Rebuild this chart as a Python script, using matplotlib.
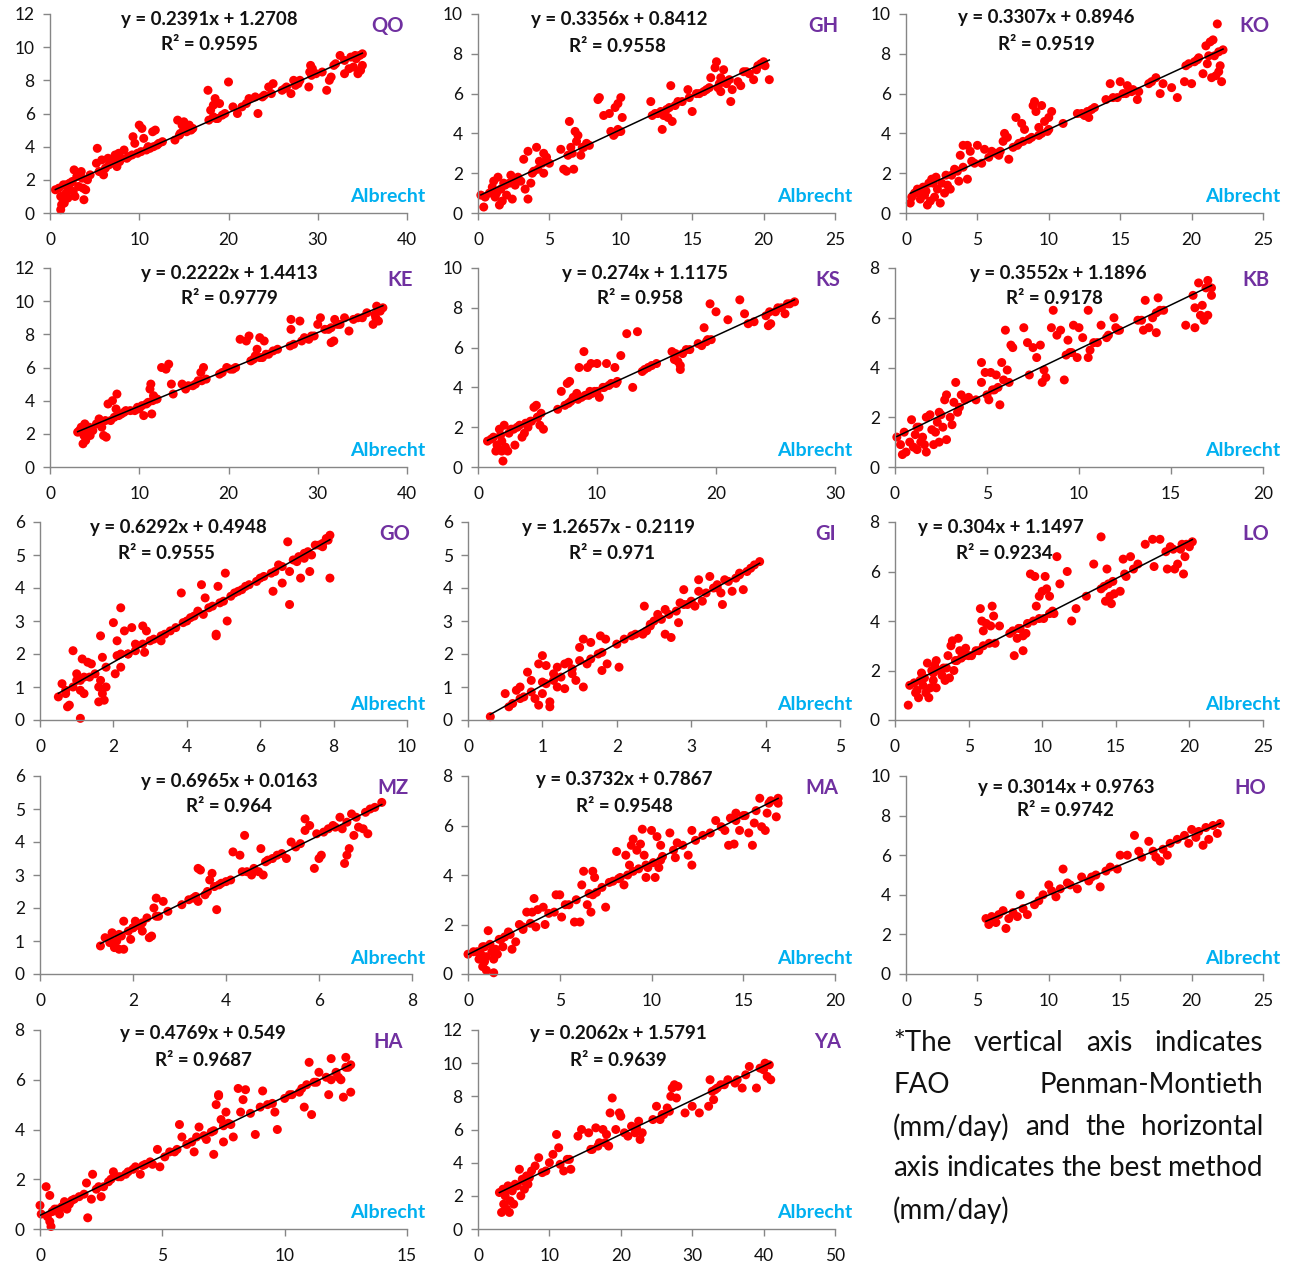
import numpy as np
import matplotlib
matplotlib.use("Agg")
import matplotlib.pyplot as plt

plt.rcParams["font.family"] = ["Lato", "DejaVu Sans"]

# ---- data ----
stations = ["QO", "GH", "KO", "KE", "KS", "KB", "GO", "GI", "LO", "MZ", "MA", "HO", "HA", "YA"]
slopes = [0.2391, 0.3356, 0.3307, 0.2222, 0.274, 0.3552, 0.6292, 1.2657, 0.304, 0.6965, 0.3732, 0.3014, 0.4769, 0.2062]
intercepts = [1.2708, 0.8412, 0.8946, 1.4413, 1.1175, 1.1896, 0.4948, -0.2119, 1.1497, 0.0163, 0.7867, 0.9763, 0.549, 1.5791]
eq_labels = ["y = 0.2391x + 1.2708", "y = 0.3356x + 0.8412", "y = 0.3307x + 0.8946",
             "y = 0.2222x + 1.4413", "y = 0.274x + 1.1175", "y = 0.3552x + 1.1896",
             "y = 0.6292x + 0.4948", "y = 1.2657x - 0.2119", "y = 0.304x + 1.1497",
             "y = 0.6965x + 0.0163", "y = 0.3732x + 0.7867", "y = 0.3014x + 0.9763",
             "y = 0.4769x + 0.549", "y = 0.2062x + 1.5791"]
r2_labels = ["R² = 0.9595", "R² = 0.9558", "R² = 0.9519", "R² = 0.9779", "R² = 0.958",
             "R² = 0.9178", "R² = 0.9555", "R² = 0.971", "R² = 0.9234", "R² = 0.964",
             "R² = 0.9548", "R² = 0.9742", "R² = 0.9687", "R² = 0.9639"]
x_max = [40, 25, 25, 40, 30, 20, 10, 5, 25, 8, 20, 25, 15, 50]
x_step = [10, 5, 5, 10, 10, 5, 2, 1, 5, 2, 5, 5, 5, 10]
y_max = [12, 10, 10, 12, 10, 8, 6, 6, 8, 6, 8, 10, 8, 12]
y_step = [2, 2, 2, 2, 2, 2, 1, 1, 2, 1, 2, 2, 2, 2]

qo = [(0.6,1.4),(1.0,1.5),(1.2,0.2),(1.3,0.5),(1.2,1.0),(1.5,1.7),(1.4,0.9),(1.8,1.2),(2.0,1.5),(2.2,1.8),
      (2.0,0.9),(2.5,1.9),(2.7,2.6),(2.6,1.3),(3.0,2.2),(3.2,1.6),(3.5,2.5),(3.8,0.8),(3.7,1.5),(4.0,1.4),
      (4.2,2.0),(3.4,2.3),(1.6,0.6),(2.8,1.0),(5.3,3.9),(5.2,3.0),(5.5,2.5),(5.8,3.2),(6.0,2.3),(6.2,2.7),
      (6.5,3.3),(6.8,3.0),(7.0,3.2),(7.3,3.5),(7.5,2.8),(7.7,3.6),(8.0,3.3),(8.3,3.8),(8.6,3.3),(9.3,4.6),
      (9.5,4.2),(10.0,5.3),(10.3,5.1),(10.5,4.5),(10.8,3.8),(11.2,3.9),(11.5,4.9),(11.8,5.0),(12.0,4.1),(11.0,4.0),
      (14.0,4.4),(14.3,5.6),(14.5,4.7),(14.8,5.3),(15.0,5.0),(15.3,4.9),(15.6,5.3),(15.8,5.0),(15.0,5.5),(17.7,7.4),
      (17.8,5.6),(18.0,6.2),(18.3,6.5),(18.5,6.9),(18.8,5.7),(19.0,6.6),(19.3,5.9),(20.0,7.9),(18.3,5.8),(20.5,6.4),
      (21.0,6.0),(22.3,6.9),(23.0,7.0),(23.3,6.0),(24.0,7.1),(24.5,7.6),(25.0,7.8),(24.8,7.2),(26.0,7.4),(26.5,7.6),
      (27.0,7.2),(27.3,8.0),(27.8,7.8),(27.5,7.7),(29.0,7.6),(29.1,8.5),(29.2,8.9),(29.4,8.7),(29.3,8.3),(31.0,7.4),
      (31.3,8.0),(31.5,8.2),(31.8,8.9),(32.0,9.0),(32.5,9.5),(33.0,8.4),(33.5,8.7),(33.7,9.4),(34.0,8.8),(34.3,9.3),
      (34.5,8.4),(34.7,9.5),(35.0,9.6),(35.0,8.9),(34.8,8.6),(1.8,1.7),(2.3,1.8),(3.6,2.1),(4.5,2.3),(6.6,2.9),
      (7.2,3.0),(7.8,3.1),(8.8,3.4),(9.2,3.5),(9.8,3.6),(10.2,3.7),(11.6,4.0),(12.2,4.2),(14.6,4.8),(15.5,5.0),
      (16.0,5.1),(18.6,5.7),(19.6,6.0),(22.0,6.6),(23.8,7.0),(26.3,7.5),(28.0,8.0),(29.8,8.4),(30.5,8.5),(33.0,9.2),
      (34.2,9.5),(12.6,4.3),(21.5,6.4)]

gh = [(0.2,0.9),(0.4,0.3),(0.5,0.8),(0.8,1.0),(1.0,1.3),(1.1,1.6),(1.2,0.8),(1.4,1.8),(1.5,0.4),(1.6,1.2),
      (1.7,0.6),(1.8,1.5),(2.0,0.9),(2.2,1.5),(2.3,1.9),(2.4,0.7),(2.6,1.4),(3.0,1.6),(3.2,2.7),(3.3,1.2),
      (3.5,3.1),(3.5,0.7),(3.7,1.5),(3.8,2.0),(4.1,3.3),(4.3,2.6),(4.5,2.5),(4.6,2.0),(4.6,3.0),(4.8,2.8),
      (1.3,1.0),(2.8,1.8),(5.8,3.2),(6.0,2.2),(6.2,2.1),(6.3,2.9),(6.4,4.6),(6.5,3.3),(6.7,2.2),(6.8,4.1),
      (6.9,3.6),(7.0,3.9),(7.2,2.9),(7.4,3.3),(7.6,3.5),(8.4,5.7),(8.5,5.8),(8.8,4.9),(9.2,5.0),(9.3,4.1),
      (9.5,3.9),(9.6,5.3),(9.8,5.5),(10.0,5.8),(10.0,4.1),(10.1,4.8),(9.8,4.2),(12.1,5.6),(12.2,4.9),(12.6,5.0),
      (12.9,4.2),(13.0,4.9),(13.2,5.2),(13.4,5.3),(13.5,6.4),(13.6,4.6),(13.3,4.8),(14.0,5.6),(14.7,6.2),(15.0,5.1),
      (14.8,5.8),(15.5,6.0),(16.0,6.2),(16.3,6.8),(16.6,7.3),(16.7,7.6),(16.8,6.3),(17.0,6.1),(17.0,6.8),(17.2,7.2),
      (17.4,6.5),(17.7,5.6),(17.6,6.7),(17.8,6.2),(18.2,6.6),(18.4,6.4),(18.6,7.1),(19.0,7.0),(19.3,6.7),(19.5,7.2),
      (19.8,7.5),(20.0,7.6),(20.1,7.4),(20.4,6.7),(1.9,1.4),(2.5,1.6),(3.9,2.1),(4.2,2.2),(5.0,2.5),(6.6,3.0),
      (7.3,3.3),(7.8,3.4),(9.6,4.0),(9.9,4.1),(12.4,5.0),(12.8,5.1),(13.8,5.4),(14.3,5.6),(15.3,6.0),(15.8,6.1),
      (16.2,6.3),(16.9,6.5),(17.3,6.6),(18.8,7.1),(19.6,7.4)]

ko = [(0.3,0.5),(0.4,0.8),(0.6,1.0),(0.9,1.1),(1.0,0.7),(1.2,1.3),(1.3,0.9),(1.5,0.4),(1.6,1.5),(1.7,0.6),
      (1.8,1.7),(2.0,0.8),(2.1,1.8),(2.2,1.2),(2.4,0.5),(2.5,1.5),(2.7,1.0),(2.9,1.4),(3.1,1.2),(3.4,2.2),
      (3.7,1.6),(3.8,2.9),(4.0,3.4),(4.0,2.3),(4.3,1.7),(4.3,3.4),(4.5,3.1),(4.6,2.6),(5.0,3.4),(5.3,2.5),
      (5.5,3.2),(1.4,1.1),(2.8,1.9),(6.0,3.1),(6.5,2.9),(6.8,3.6),(6.9,4.0),(7.1,3.8),(7.2,2.7),(7.5,3.3),
      (7.7,4.8),(7.9,3.5),(8.1,4.5),(8.3,4.2),(8.6,3.7),(8.9,5.4),(9.0,5.6),(9.1,5.1),(9.3,4.3),(9.5,5.4),
      (9.5,4.0),(9.7,4.6),(10.0,4.8),(10.0,4.2),(10.2,5.1),(11.0,4.5),(12.0,5.0),(12.5,4.9),(12.8,4.8),(13.2,5.3),
      (14.0,5.7),(14.3,6.5),(14.5,5.8),(15.0,6.6),(15.2,6.0),(15.5,6.4),(15.8,6.1),(16.2,5.7),(16.3,6.1),(17.0,6.5),
      (17.5,6.8),(17.8,6.0),(18.0,6.5),(18.6,6.3),(19.0,5.8),(19.5,6.6),(19.6,7.4),(20.0,6.5),(20.2,7.6),(20.5,7.8),
      (20.8,7.0),(21.0,8.4),(21.1,7.5),(21.3,8.6),(21.4,6.8),(21.6,7.9),(21.7,6.9),(21.8,9.5),(21.9,7.1),(22.0,7.4),
      (22.1,6.6),(22.2,8.2),(21.5,8.7),(0.8,1.2),(1.9,1.5),(3.2,1.9),(3.6,2.1),(4.8,2.5),(5.8,2.8),(6.3,3.0),
      (6.6,3.1),(7.8,3.4),(8.2,3.6),(8.8,3.8),(9.3,3.9),(9.9,4.1),(12.3,5.0),(12.7,5.1),(13.0,5.2),(14.8,5.8),
      (15.4,6.0),(15.9,6.2),(17.2,6.6),(19.8,7.5),(20.4,7.7),(21.2,7.9),(21.9,8.1)]

ke = [(3.1,2.1),(3.5,2.4),(3.7,1.4),(3.8,1.9),(3.9,2.6),(4.0,1.6),(4.2,2.1),(4.5,1.9),(4.8,2.2),(5.5,2.9),
      (5.8,2.4),(6.0,1.9),(6.3,1.8),(6.5,3.8),(6.8,2.8),(7.0,4.0),(7.4,3.5),(7.5,4.4),(8.0,3.2),(8.5,3.4),
      (9.5,3.4),(10.0,3.5),(10.5,3.1),(11.0,3.9),(11.2,4.7),(11.3,5.0),(11.4,3.2),(11.6,4.3),(12.0,4.1),(12.5,6.0),
      (13.0,5.9),(13.3,6.2),(13.6,5.0),(13.8,4.4),(14.8,5.0),(15.2,4.7),(16.0,4.9),(16.6,5.2),(16.9,5.7),(17.2,6.0),
      (17.5,5.3),(19.0,5.6),(19.8,6.0),(20.5,5.9),(21.3,7.7),(22.0,7.6),(22.3,7.9),(22.5,6.4),(23.0,6.7),(23.2,7.1),
      (23.5,7.8),(23.8,6.6),(24.0,7.6),(24.5,6.8),(25.0,7.0),(26.9,7.3),(27.0,8.9),(27.0,8.3),(27.3,7.4),(28.0,8.8),
      (28.2,7.6),(29.0,7.7),(29.6,7.9),(30.0,8.6),(30.3,9.0),(31.2,8.3),(31.5,7.5),(31.8,7.6),(31.9,8.9),(32.5,8.6),
      (33.0,9.0),(33.5,8.2),(34.0,8.9),(35.0,9.0),(36.2,8.6),(36.4,9.2),(36.6,9.7),(36.8,8.8),(37.0,9.4),(37.3,9.6),
      (36.5,9.0),(3.3,2.2),(4.4,2.4),(5.2,2.6),(6.2,2.8),(7.2,3.0),(7.7,3.1),(8.3,3.3),(9.0,3.4),(9.8,3.6),
      (10.3,3.7),(10.8,3.8),(11.5,4.0),(11.9,4.1),(15.5,4.9),(16.3,5.0),(17.0,5.2),(19.3,5.7),(20.2,5.9),(20.8,6.0),
      (22.8,6.5),(23.5,6.6),(24.2,6.8),(25.5,7.1),(28.5,7.8),(29.3,7.9),(30.8,8.3),(31.5,8.4),(32.2,8.6),(34.5,9.0),
      (35.5,9.3)]

ks = [(0.8,1.3),(1.3,1.5),(1.5,0.8),(1.6,1.1),(1.8,1.9),(2.0,0.8),(2.0,1.3),(2.1,0.3),(2.2,2.1),(2.3,1.0),
      (2.5,0.8),(2.6,1.7),(3.0,1.9),(3.1,1.1),(3.5,2.1),(3.7,1.5),(3.9,1.7),(4.2,2.0),(4.5,2.3),(4.7,3.0),
      (4.9,3.1),(5.0,2.5),(5.2,2.1),(5.5,1.9),(5.3,2.7),(6.7,2.9),(7.0,3.8),(7.5,4.2),(7.7,4.3),(7.8,3.3),
      (8.0,3.5),(8.3,3.7),(8.5,5.0),(8.9,5.8),(9.0,3.6),(9.2,5.0),(9.5,5.2),(9.4,3.8),(9.8,3.8),(10.0,5.2),
      (10.2,3.5),(10.5,4.0),(10.8,5.2),(11.0,4.1),(11.5,5.0),(11.6,4.2),(12.0,5.6),(12.5,6.7),(13.0,4.0),(13.4,6.8),
      (13.8,4.8),(14.3,5.0),(15.0,5.2),(16.3,5.8),(16.5,5.4),(16.8,5.3),(17.0,4.9),(17.0,5.1),(17.2,5.7),(17.8,5.9),
      (18.8,6.1),(19.0,7.0),(19.2,6.3),(19.5,8.2),(19.6,6.4),(20.0,7.8),(21.0,7.4),(22.0,8.4),(22.4,7.7),(22.7,7.2),
      (23.2,7.3),(24.2,7.6),(24.4,7.1),(24.6,7.2),(25.0,7.8),(25.5,8.0),(25.8,7.7),(26.2,8.2),(26.6,8.3),(1.1,1.4),
      (1.9,1.6),(2.8,1.9),(3.3,2.0),(4.0,2.2),(4.4,2.3),(5.0,2.5),(7.3,3.1),(7.6,3.2),(8.4,3.4),(8.7,3.5),
      (9.3,3.6),(9.6,3.7),(10.0,3.8),(10.6,4.0),(11.2,4.2),(11.7,4.3),(14.0,4.9),(14.6,5.1),(16.6,5.7),(17.5,5.9),
      (18.5,6.2),(19.3,6.4),(24.5,7.8),(25.2,8.0),(26.0,8.2)]

kb = [(0.1,1.2),(0.3,0.9),(0.4,0.5),(0.6,0.6),(0.8,1.0),(0.9,1.9),(1.0,0.8),(1.1,1.3),(1.2,0.7),(1.4,1.0),
      (1.5,1.2),(1.6,0.9),(1.7,0.6),(1.7,2.0),(1.9,2.1),(2.0,1.5),(2.1,0.9),(2.2,1.4),(2.4,2.2),(2.4,1.0),
      (2.6,1.6),(2.7,2.7),(2.8,1.1),(2.8,2.9),(3.0,2.0),(3.1,1.7),(3.2,2.6),(3.3,3.4),(3.4,2.2),(3.6,2.9),
      (3.8,2.7),(4.0,2.8),(1.3,1.6),(2.3,1.8),(4.4,2.7),(4.7,3.4),(4.7,4.2),(4.9,3.8),(5.0,2.9),(5.1,2.7),
      (5.2,3.8),(5.3,3.1),(5.5,3.7),(5.6,3.2),(5.7,2.5),(5.8,4.2),(5.9,3.5),(6.0,5.5),(6.1,3.9),(6.3,4.9),
      (6.4,4.8),(7.0,5.6),(7.2,5.0),(7.3,3.7),(7.5,4.8),(7.7,4.4),(7.9,4.9),(8.0,3.4),(8.1,3.9),(8.2,3.6),
      (8.5,5.6),(8.6,6.3),(8.8,5.3),(9.0,5.5),(9.2,3.5),(9.3,4.5),(9.4,5.1),(9.5,4.6),(9.7,5.7),(9.9,4.4),
      (10.0,5.6),(10.2,5.2),(10.5,6.3),(10.5,4.4),(10.6,4.7),(11.0,5.0),(11.2,5.7),(11.5,5.2),(11.9,6.0),(12.0,5.6),
      (12.2,5.5),(13.4,5.9),(13.5,5.5),(13.6,6.7),(13.8,5.6),(14.0,6.0),(14.2,6.2),(14.2,5.4),(14.3,6.8),(14.6,6.3),
      (15.8,5.7),(16.2,6.9),(16.3,6.4),(16.3,5.6),(16.5,7.4),(16.6,6.1),(16.7,6.5),(16.8,5.9),(17.0,7.5),(17.0,6.1),
      (17.2,7.2),(17.2,6.9),(0.5,1.4),(1.2,1.6),(2.5,2.1),(3.5,2.4),(5.4,3.1),(6.2,3.4),(9.6,4.6),(10.8,5.0),
      (11.6,5.3),(12.1,5.5),(13.2,5.9),(14.4,6.3),(16.9,7.2)]

go = [(0.5,0.7),(0.6,1.1),(0.7,0.8),(0.75,0.4),(0.8,0.45),(0.9,1.0),(0.9,2.1),(1.0,1.2),(1.0,1.4),(1.1,0.9),
      (1.1,0.05),(1.15,1.85),(1.2,0.8),(1.2,1.3),(1.3,1.75),(1.4,1.7),(1.5,1.4),(1.6,0.55),(1.6,1.0),(1.65,1.2),
      (1.65,2.55),(1.7,1.9),(1.7,0.8),(1.8,1.0),(1.75,0.6),(2.0,2.95),(2.05,1.4),(2.1,1.95),(2.1,2.4),(2.2,1.6),
      (2.2,3.4),(2.2,2.0),(2.3,2.7),(2.5,2.8),(2.4,2.0),(2.6,2.3),(2.8,2.85),(2.85,2.05),(2.9,2.7),(3.0,2.4),
      (3.3,2.4),(3.4,2.6),(3.7,2.8),(3.85,3.85),(3.9,2.95),(4.1,3.1),(4.3,3.3),(4.4,4.1),(4.45,3.2),(4.5,3.7),
      (4.8,2.6),(4.8,2.55),(4.85,4.05),(5.0,3.6),(5.05,4.45),(5.1,3.0),(5.4,3.9),(5.6,4.05),(5.9,4.2),(6.0,4.3),
      (6.3,4.45),(6.35,3.9),(6.6,4.15),(6.75,5.4),(6.8,4.5),(6.8,3.5),(7.0,4.8),(7.1,4.3),(7.2,4.9),(7.3,5.1),
      (7.35,4.5),(7.4,5.0),(7.5,5.3),(7.7,5.25),(7.8,5.5),(7.9,5.6),(7.9,4.3),(6.5,4.7),(0.7,0.9),(1.1,1.2),
      (1.35,1.3),(1.8,1.6),(2.4,2.0),(2.6,2.1),(2.8,2.3),(3.1,2.45),(3.3,2.55),(3.55,2.7),(4.0,3.0),(4.2,3.15),
      (4.6,3.4),(4.7,3.45),(4.9,3.55),(5.2,3.75),(5.3,3.85),(5.5,3.95),(5.7,4.1),(6.1,4.35),(6.4,4.5),(6.6,4.65),
      (6.9,4.85),(7.05,4.95),(7.2,5.05),(7.6,5.3),(7.7,5.35),(7.85,5.45)]

gi = [(0.3,0.1),(0.5,0.8),(0.55,0.4),(0.6,0.5),(0.65,0.9),(0.7,1.0),(0.75,0.7),(0.8,1.45),(0.85,1.2),(0.9,0.65),
      (0.95,1.7),(0.95,0.45),(1.0,1.95),(1.0,0.8),(1.0,1.15),(1.05,1.65),(1.1,0.55),(1.1,0.4),(1.15,1.4),(1.2,1.6),
      (1.2,1.0),(1.3,0.95),(1.3,1.7),(1.35,1.75),(1.4,1.4),(1.45,1.2),(1.5,2.2),(1.5,1.8),(1.55,2.45),(1.55,1.0),
      (1.6,1.7),(1.65,2.35),(1.75,2.0),(1.78,2.55),(1.8,1.5),(1.85,2.45),(1.87,1.7),(2.0,2.3),(2.03,1.6),(2.2,2.55),
      (2.35,2.6),(2.37,3.45),(2.4,2.7),(2.5,3.0),(2.55,3.2),(2.65,2.6),(2.65,3.35),(2.73,2.5),(2.8,3.3),(2.83,2.95),
      (2.85,3.55),(2.9,3.95),(3.05,3.45),(3.1,4.25),(3.1,3.9),(3.15,3.6),(3.25,4.35),(3.3,4.0),(3.4,3.85),(3.42,3.5),
      (3.45,4.25),(3.55,3.9),(3.6,4.3),(3.65,4.45),(3.7,3.95),(3.75,4.5),(3.85,4.7),(3.92,4.8),(1.25,1.3),(2.9,3.5),
      (3.35,4.1),(2.45,2.9),(0.7,0.65),(0.85,0.85),(1.05,1.1),(1.15,1.2),(1.4,1.55),(1.65,1.85),(1.8,2.05),(2.1,2.45),
      (2.25,2.6),(2.45,2.85),(2.6,3.05),(2.7,3.2),(2.95,3.5),(3.0,3.6),(3.2,3.85),(3.35,4.0),(3.5,4.2),(3.65,4.4),
      (3.8,4.6)]

lo = [(0.9,0.6),(1.0,1.4),(1.3,1.5),(1.4,1.1),(1.5,1.2),(1.6,0.9),(1.8,1.9),(1.9,1.4),(2.0,1.7),(2.1,1.1),
      (2.2,2.3),(2.3,0.9),(2.4,1.3),(2.5,2.0),(2.6,1.6),(2.7,2.2),(2.8,2.4),(2.8,1.3),(3.0,2.0),(3.2,1.8),
      (3.4,1.6),(3.5,2.1),(3.6,2.6),(3.7,1.7),(3.8,3.0),(3.9,3.2),(4.0,2.0),(4.1,2.4),(4.3,3.3),(4.4,2.8),
      (4.5,2.5),(4.8,2.9),(5.0,2.6),(5.2,2.6),(5.7,2.8),(5.8,4.5),(5.9,4.0),(6.0,3.6),(6.2,3.9),(6.5,3.8),
      (6.6,4.6),(6.7,4.2),(6.8,3.1),(7.1,3.8),(8.0,3.6),(8.1,2.6),(8.3,3.3),(8.5,3.7),(8.7,2.8),(8.7,3.4),
      (8.9,3.5),(9.2,5.9),(9.5,5.8),(9.6,4.6),(9.8,5.0),(10.0,5.2),(10.1,4.1),(10.2,5.8),(10.3,5.3),(10.5,5.0),
      (10.5,4.3),(10.8,4.3),(11.0,6.6),(11.2,5.5),(11.7,6.0),(12.0,4.0),(12.3,4.5),(13.0,5.0),(13.5,6.3),(14.0,7.4),
      (14.0,5.3),(14.3,4.8),(14.5,5.5),(14.4,6.1),(14.6,5.0),(14.7,4.7),(14.9,5.1),(15.3,5.2),(15.5,6.5),(15.7,5.8),
      (16.0,6.6),(16.5,6.3),(17.0,7.1),(17.5,7.3),(17.6,6.2),(18.0,7.3),(18.5,6.1),(18.7,7.0),(19.0,6.1),(19.2,6.3),
      (19.4,6.9),(19.6,5.9),(19.7,6.6),(19.8,7.1),(20.0,7.0),(20.2,7.2),(19.5,7.1),(1.7,1.6),(2.6,1.9),(3.3,2.1),
      (4.2,2.4),(4.7,2.6),(5.5,2.8),(6.0,3.0),(6.4,3.1),(7.8,3.5),(8.4,3.7),(9.0,3.9),(9.4,4.0),(9.8,4.1),
      (10.7,4.4),(14.2,5.4),(14.8,5.6),(15.6,5.9),(16.2,6.1),(18.4,6.8),(18.9,6.9)]

mz = [(1.3,0.85),(1.4,1.1),(1.5,0.95),(1.55,1.25),(1.6,0.8),(1.65,1.0),(1.7,0.75),(1.75,1.15),(1.8,0.75),(1.8,1.6),
      (1.9,1.3),(1.95,1.05),(2.0,1.4),(2.05,1.6),(2.15,1.45),(2.2,1.3),(2.3,1.7),(2.35,1.1),(2.4,1.15),(2.45,2.0),
      (2.5,2.3),(2.55,1.75),(2.65,2.2),(2.75,1.9),(3.05,2.1),(3.3,2.3),(3.4,3.2),(3.45,3.15),(3.4,2.2),(3.55,2.4),
      (3.65,2.85),(3.7,3.05),(3.8,1.95),(3.85,2.7),(4.0,2.8),(4.15,3.7),(4.3,3.6),(4.4,4.2),(4.35,3.1),(4.55,3.0),
      (4.7,3.1),(4.75,3.8),(4.8,3.0),(4.85,3.4),(5.1,3.6),(5.3,3.5),(5.4,4.0),(5.6,3.95),(5.7,4.7),(5.7,4.35),
      (5.8,4.5),(5.9,3.2),(5.95,4.25),(6.0,3.5),(6.05,3.6),(6.2,4.4),(6.45,4.75),(6.5,4.4),(6.55,3.35),(6.6,3.6),
      (6.65,3.8),(6.7,4.85),(6.75,4.2),(6.85,4.45),(6.95,4.4),(7.05,4.25),(7.1,5.0),(7.35,5.2),(6.3,4.5),(5.0,3.5),
      (1.5,1.05),(1.7,1.2),(2.0,1.4),(2.2,1.55),(2.5,1.75),(3.2,2.25),(3.35,2.35),(3.6,2.5),(3.75,2.65),(3.9,2.75),
      (4.1,2.85),(4.45,3.1),(4.6,3.2),(4.9,3.45),(5.2,3.65),(5.5,3.85),(6.1,4.3),(6.35,4.45),(6.6,4.6),(6.8,4.75),
      (7.0,4.9),(7.2,5.05)]

ma = [(0.0,0.8),(0.5,0.9),(0.6,0.6),(0.7,0.8),(0.8,0.3),(0.8,1.1),(0.9,0.5),(1.0,0.15),(1.0,0.7),(1.1,1.75),
      (1.2,1.2),(1.3,0.9),(1.4,0.05),(1.4,0.6),(1.5,1.0),(1.6,0.8),(1.7,1.4),(1.9,1.1),(2.0,1.5),(2.2,1.7),
      (2.4,1.0),(2.6,1.3),(2.8,2.0),(3.0,1.8),(3.2,2.5),(3.5,2.5),(3.6,3.05),(3.7,1.9),(3.8,2.6),(4.1,2.7),
      (4.2,2.0),(4.7,2.5),(4.8,3.2),(5.0,3.2),(5.1,2.3),(5.5,2.8),(5.8,2.1),(6.1,2.1),(6.2,3.6),(6.3,4.15),
      (6.5,2.8),(6.7,2.5),(6.8,4.15),(6.8,3.2),(6.9,3.9),(7.0,3.3),(7.5,2.7),(7.7,3.7),(8.1,4.95),(8.3,3.9),
      (8.5,3.6),(8.6,4.8),(8.8,4.4),(8.9,5.2),(9.0,5.45),(9.2,5.0),(9.4,5.25),(9.5,5.85),(9.6,4.8),(9.7,3.9),
      (9.8,4.3),(10.0,5.8),(10.1,4.5),(10.2,3.9),(10.3,5.55),(10.4,4.3),(10.5,5.2),(10.5,4.6),(11.0,5.7),(11.3,4.7),
      (11.4,5.3),(12.0,4.8),(12.2,4.4),(12.2,5.8),(12.8,5.6),(13.5,6.2),(14.0,5.8),(14.2,5.2),(14.5,5.25),(14.6,6.5),
      (14.8,5.8),(15.0,6.4),(15.3,5.7),(15.5,5.2),(15.6,6.1),(15.9,7.1),(16.0,5.95),(16.2,5.8),(16.3,6.5),(16.5,7.0),
      (16.8,6.35),(16.9,6.9),(16.9,7.1),(14.3,6.3),(0.3,0.9),(0.9,1.1),(1.8,1.4),(2.3,1.6),(3.0,1.9),(3.4,2.05),
      (4.4,2.45),(5.3,2.8),(5.9,3.0),(6.6,3.25),(7.3,3.5),(7.9,3.75),(8.2,3.85),(8.7,4.0),(9.0,4.15),(9.3,4.25),
      (9.7,4.4),(10.6,4.75),(11.2,5.0),(11.7,5.2),(12.4,5.4),(13.2,5.7),(13.8,5.95),(14.6,6.2),(15.1,6.4),(15.7,6.6),
      (16.4,6.9)]

ho = [(5.6,2.8),(5.8,2.5),(6.0,2.9),(6.3,2.6),(6.5,3.0),(6.8,3.2),(7.0,2.3),(7.2,2.8),(7.5,3.1),(7.8,2.9),
      (8.0,4.0),(8.2,3.3),(8.5,3.0),(9.0,3.5),(9.3,3.7),(9.6,4.0),(10.0,4.5),(10.2,4.2),(10.5,3.9),(10.8,4.3),
      (11.0,5.3),(11.3,4.6),(11.5,4.5),(12.0,4.3),(12.3,4.9),(12.8,4.7),(13.0,4.9),(13.3,5.0),(13.6,4.4),(14.0,5.2),
      (14.3,5.4),(14.8,5.3),(15.0,6.0),(15.5,6.0),(16.0,7.0),(16.3,6.2),(16.5,5.9),(17.0,6.7),(17.3,6.2),(17.5,5.9),
      (18.0,6.3),(18.3,6.0),(18.5,6.6),(19.0,6.8),(19.5,7.0),(19.8,6.6),(20.0,7.3),(20.3,6.9),(20.5,7.2),(20.8,6.5),
      (21.0,7.4),(21.2,6.8),(21.5,7.5),(21.8,7.1),(22.0,7.6),(17.8,5.7)]

ha = [(0.0,0.95),(0.05,0.6),(0.25,1.7),(0.3,0.5),(0.4,0.3),(0.4,1.35),(0.45,0.1),(0.5,0.7),(0.7,0.8),(0.8,0.6),
      (0.9,0.9),(1.0,1.1),(1.1,0.8),(1.2,1.0),(1.4,1.2),(1.6,1.3),(1.9,1.85),(1.95,0.45),(2.1,1.2),(2.15,2.2),
      (2.3,1.6),(2.5,1.3),(2.6,1.7),(2.9,2.0),(3.0,2.3),(3.3,2.1),(3.6,2.3),(3.9,2.5),(4.1,2.2),(4.3,2.6),
      (4.6,2.6),(4.8,3.2),(4.9,2.5),(5.1,2.9),(5.5,3.1),(5.7,4.2),(5.8,3.7),(6.0,3.4),(6.3,3.1),(6.4,3.7),
      (6.5,4.1),(6.8,3.6),(7.0,3.9),(7.1,3.0),(7.2,5.0),(7.3,5.35),(7.4,4.4),(7.5,3.5),(7.6,4.7),(7.8,4.2),
      (7.9,3.7),(8.1,5.65),(8.2,4.7),(8.3,5.2),(8.4,5.6),(8.8,3.8),(9.0,4.9),(9.1,5.55),(9.3,5.0),(9.6,4.7),
      (9.7,4.0),(10.0,5.25),(10.3,5.4),(10.6,5.5),(10.8,4.9),(10.9,5.8),(11.0,6.7),(11.1,4.6),(11.2,5.9),(11.4,6.3),
      (11.8,5.4),(11.9,6.85),(11.9,6.0),(12.2,6.1),(12.3,6.0),(12.4,5.3),(12.5,6.9),(12.6,6.5),(12.7,5.5),(12.7,6.6),
      (7.3,5.4),(0.6,0.8),(1.3,1.15),(1.8,1.4),(2.4,1.7),(2.8,1.9),(3.2,2.1),(3.5,2.2),(3.8,2.4),(4.2,2.55),
      (4.5,2.7),(5.3,3.1),(5.6,3.2),(6.2,3.5),(6.7,3.75),(7.1,3.95),(7.5,4.15),(7.7,4.25),(8.6,4.65),(9.5,5.05),
      (10.2,5.4),(10.7,5.65),(11.3,5.9),(11.7,6.1),(12.1,6.3),(12.5,6.5)]

ya = [(3.0,2.2),(3.3,1.0),(3.5,2.4),(3.6,1.5),(3.8,2.0),(4.0,1.2),(4.2,2.6),(4.4,1.0),(4.5,1.7),(4.8,2.3),
      (5.0,1.5),(5.5,2.6),(5.8,3.6),(6.0,2.0),(6.2,3.0),(6.5,2.4),(6.8,3.2),(7.0,2.7),(7.5,3.5),(8.0,3.8),
      (8.5,4.3),(9.5,3.5),(10.0,4.0),(10.5,4.5),(11.0,5.7),(11.3,4.9),(11.5,3.9),(12.0,3.5),(12.5,4.2),(13.0,3.6),
      (14.0,5.6),(14.5,6.0),(15.5,5.8),(16.0,4.8),(16.5,6.1),(17.0,5.2),(17.5,6.0),(18.0,5.7),(18.3,5.0),(18.5,7.0),
      (18.8,7.9),(19.3,6.0),(19.8,7.0),(20.0,6.8),(21.0,5.6),(21.5,6.2),(22.0,5.8),(22.5,6.5),(22.7,5.4),(23.0,5.8),
      (25.0,7.4),(25.5,6.6),(26.0,6.9),(26.5,7.3),(27.0,8.0),(27.2,8.5),(27.5,8.7),(27.8,7.9),(28.0,8.6),(29.0,7.0),
      (30.0,7.4),(31.0,7.0),(32.3,7.4),(32.5,9.0),(32.8,8.3),(33.0,7.8),(33.5,8.5),(34.0,8.7),(35.0,9.0),(36.0,8.8),
      (37.0,8.5),(38.0,9.8),(39.0,8.5),(40.0,9.6),(40.5,9.2),(40.8,9.9),(41.0,9.0),(40.2,10.0),(3.8,2.3),(5.2,2.7),
      (6.4,2.9),(7.2,3.1),(9.0,3.4),(12.8,4.2),(15.8,4.8),(16.8,5.0),(17.8,5.2),(20.5,5.8),(22.2,6.1),(24.5,6.6),
      (25.8,6.9),(26.8,7.1),(33.2,8.4),(34.5,8.7),(36.3,9.0),(37.5,9.3),(39.5,9.7)]

points = [qo, gh, ko, ke, ks, kb, go, gi, lo, mz, ma, ho, ha, ya]

# ---- layout (pixel boxes: left, top, right, bottom) ----
W, H = 1298, 1270
boxes = [(50, 14, 407, 213), (478, 14, 835, 213), (906, 14, 1263, 213),
         (50, 268, 407, 467), (478, 268, 835, 467), (895, 268, 1263, 467),
         (40, 522, 407, 720), (468, 522, 840, 720), (895, 522, 1263, 720),
         (40, 776, 412, 974), (468, 776, 835, 974), (906, 776, 1263, 974),
         (40, 1030, 407, 1229), (478, 1030, 835, 1229)]
eq_pos = [(209, 19), (619, 20), (1046, 17), (229, 273), (645, 273), (1058, 273),
          (178, 527), (608, 527), (1001, 527), (229, 781), (624, 780), (1066, 787),
          (203, 1034), (618, 1034)]
r2_pos = [(209, 44), (617, 46), (1046, 44), (229, 299), (640, 299), (1054, 299),
          (166, 553), (612, 553), (1004, 553), (229, 806), (624, 806), (1065, 811),
          (203, 1060), (618, 1060)]
st_pos = [(388, 26), (823, 26), (1254, 26), (400, 280), (828, 280), (1256, 280),
          (395, 534), (826, 534), (1256, 534), (393, 788), (822, 788), (1250, 788),
          (388, 1042), (828, 1042)]
alb_right = [425, 852, 1280]
alb_y = [197, 451, 705, 959, 1213]

fig = plt.figure(figsize=(W / 100, H / 100), dpi=100)


def fx(x):
    return x / W


def fy(y):
    return 1 - y / H


for i, name in enumerate(stations):
    l, t, r, b = boxes[i]
    ax = fig.add_axes([fx(l), fy(b), (r - l) / W, (b - t) / H])
    pts = np.array(points[i])
    ax.scatter(pts[:, 0], pts[:, 1], s=42, color="#ff0000", edgecolors="none", zorder=2, clip_on=False)
    xs = np.array([pts[:, 0].min(), pts[:, 0].max()])
    ax.plot(xs, slopes[i] * xs + intercepts[i], color="black", linewidth=1.1, zorder=3)
    ax.set_xlim(0, x_max[i])
    ax.set_ylim(0, y_max[i])
    ax.set_xticks(np.arange(0, x_max[i] + 0.01, x_step[i]))
    ax.set_yticks(np.arange(0, y_max[i] + 0.01, y_step[i]))
    for s in ["top", "right"]:
        ax.spines[s].set_visible(False)
    for s in ["left", "bottom"]:
        ax.spines[s].set_color("#868686")
        ax.spines[s].set_linewidth(1.0)
    ax.tick_params(axis="both", direction="out", length=5, width=1, color="#868686",
                   labelsize=12.5, labelcolor="#111111")
    ax.tick_params(axis="y", pad=6)
    ax.tick_params(axis="x", pad=9)

    fig.text(fx(eq_pos[i][0]), fy(eq_pos[i][1]), eq_labels[i], ha="center", va="center",
             fontsize=13.5, fontweight="bold", color="#111111")
    fig.text(fx(r2_pos[i][0]), fy(r2_pos[i][1]), r2_labels[i], ha="center", va="center",
             fontsize=13.5, fontweight="bold", color="#111111")
    fig.text(fx(st_pos[i][0]), fy(st_pos[i][1]), name, ha="center", va="center",
             fontsize=14.5, fontweight="bold", color="#7030a0")
    fig.text(fx(alb_right[i % 3]), fy(alb_y[i // 3]), "Albrecht", ha="right", va="center",
             fontsize=14, fontweight="bold", color="#00b0f0")

# justified note in the empty cell
note_lines = ["*The vertical axis indicates", "FAO Penman-Montieth", "(mm/day) and the horizontal",
              "axis indicates the best method", "(mm/day)"]
note_y = [1043, 1085, 1127, 1168, 1210]
note_left, note_right = 893, 1263

fig.canvas.draw()
renderer = fig.canvas.get_renderer()
for k, line in enumerate(note_lines):
    words = line.split(" ")
    texts = [fig.text(fx(note_left), fy(note_y[k]), w, ha="left", va="center",
                      fontsize=20, color="#111111") for w in words]
    widths = [tx.get_window_extent(renderer).width for tx in texts]
    if k == len(note_lines) - 1 or len(words) == 1:
        gap = 0
    else:
        gap = (note_right - note_left - sum(widths)) / (len(words) - 1)
    xpos = note_left
    for tx, wd in zip(texts, widths):
        tx.set_x(fx(xpos))
        xpos += wd + gap

fig.savefig("out.png", dpi=100)
